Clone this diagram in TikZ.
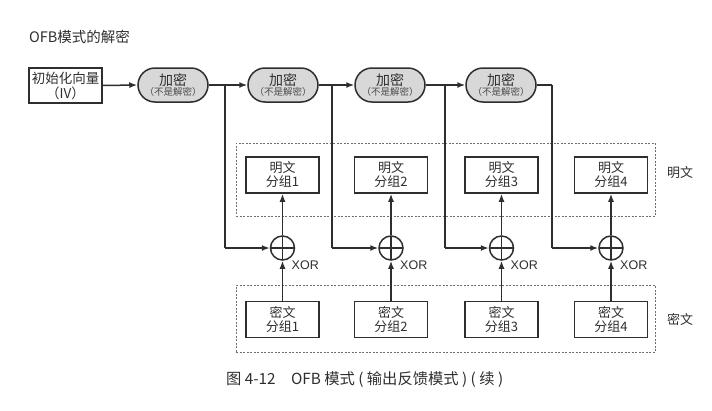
\documentclass[tikz,border=0pt]{standalone}
\usepackage{fontspec}
\setmainfont{Liberation Sans}
\newfontfamily\cjk{Noto Sans CJK SC}
\usetikzlibrary{arrows.meta,shapes.misc}
\definecolor{ink}{HTML}{2E2E2E}
\definecolor{encfill}{HTML}{D8D8D8}
\begin{document}
\begin{tikzpicture}[x=1pt,y=-1pt,
  line/.style={draw=ink,line width=1.5pt},
  arr/.style={line,-{Latex[length=8pt,width=6pt]}},
  blk/.style={draw=ink,line width=1.5pt,minimum width=73pt,minimum height=36pt,align=center,inner sep=0pt,font=\cjk\fontsize{13}{14}\selectfont,text=ink},
  enc/.style={draw=ink,line width=1.5pt,fill=encfill,rounded rectangle,minimum width=70pt,minimum height=34pt,align=center,inner sep=0pt,text=ink},
  xor/.style={draw=ink,line width=1.5pt,circle,minimum size=24pt,inner sep=0pt,path picture={\draw[ink,line width=1.5pt] (path picture bounding box.north) -- (path picture bounding box.south) (path picture bounding box.west) -- (path picture bounding box.east);}},
  grp/.style={draw=ink!70,line width=0.7pt,dash pattern=on 2pt off 1.5pt},
  lbl/.style={font=\cjk\fontsize{13}{14}\selectfont,text=ink,inner sep=0pt}]
\useasboundingbox (0,0) rectangle (712,410);
\node[lbl,font=\cjk\fontsize{14.5}{15}\selectfont,anchor=west] (title) at (29,37) {OFB模式的解密};
\node[draw=ink,line width=1.5pt,minimum width=73pt,minimum height=35pt,inner sep=0pt,align=center,font=\cjk\fontsize{13.5}{15}\selectfont,text=ink] (iv) at (65.5,85.5) {初始化向量\\（IV）};
\foreach \i/\x in {1/173,2/283,3/390,4/501}{
  \node[enc] (e\i) at (\x,85) {{\cjk\fontsize{14}{14}\selectfont 加密}\\[-2pt]{\cjk\fontsize{9.5}{10}\selectfont\color{ink!85}（不是解密）}};
}
\node[grp,minimum width=419pt,minimum height=73pt,inner sep=0pt] (pg) at (445.5,179.5) {};
\node[grp,minimum width=419pt,minimum height=67pt,inner sep=0pt] (cg) at (445.5,318.5) {};
\foreach \i/\x in {1/282.5,2/391,3/501.5,4/611}{
  \node[blk] (p\i) at (\x,175) {明文\\分组\i};
  \node[blk] (c\i) at (\x,319.5) {密文\\分组\i};
  \node[xor] (x\i) at (\x,248) {};
  \node[anchor=north west,inner sep=0pt,font=\fontsize{12.5}{13}\selectfont,text=ink] (xl\i) at ([xshift=0pt,yshift=-4pt]x\i.south east) {XOR};
  \draw[arr] (c\i.north) -- (x\i.south);
  \draw[arr] (x\i.north) -- (p\i.south);
}
\foreach \i/\x in {1/225,2/332,3/445,4/552}{
  \coordinate (j\i) at (\x,85);
  \draw[line] (j\i) -- (\x,248) coordinate (k\i);
  \draw[arr] (k\i) -- (x\i.west);
}
\draw[arr] (iv.east) -- (e1.west);
\draw[line] (e1.east) -- (j1);
\draw[arr] (j1) -- (e2.west);
\draw[line] (e2.east) -- (j2);
\draw[arr] (j2) -- (e3.west);
\draw[line] (e3.east) -- (j3);
\draw[arr] (j3) -- (e4.west);
\draw[line] (e4.east) -- (j4);
\node[lbl] (pl) at (680,173) {明文};
\node[lbl] (cl) at (680,319) {密文};
\node[lbl,font=\cjk\fontsize{15.3}{16}\selectfont,anchor=west] (cap) at (226,380) {图 4-12\hspace{1em}OFB 模式 ( 输出反馈模式 ) ( 续 )};
\end{tikzpicture}
\end{document}
